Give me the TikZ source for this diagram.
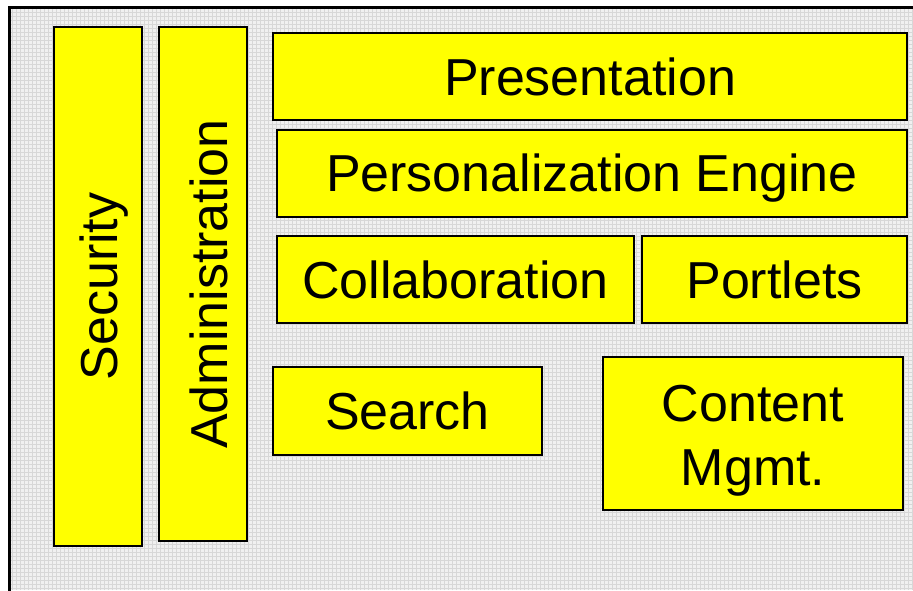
\documentclass[tikz,border=0pt]{standalone}
\usepackage{fontspec}
\setmainfont{Liberation Sans}
\definecolor{boxyellow}{RGB}{255,255,0}
\definecolor{gridgray}{RGB}{215,215,215}
\begin{document}
\begin{tikzpicture}[x=1pt,y=-1pt,
  block/.style={draw=black, line width=2.6pt, fill=boxyellow, inner sep=0pt, font=\fontsize{52}{64}\selectfont, align=center},
  label text/.style={inner sep=0pt, font=\fontsize{52}{64}\selectfont, align=center}]
\useasboundingbox (0,0) rectangle (913,590);
\fill[white] (0,0) rectangle (913,590);
\fill[white!94!black] (9,7) rectangle (913,590);
\draw[gridgray, line width=0.6pt, step=4pt] (10,8) grid (913,590);
\draw[black, line width=3pt] (9,592) -- (9,7) -- (915,7);
% blocks
\node[block, minimum width=88pt, minimum height=519pt] (security) at (98,286.5) {};
\node[label text, rotate=90] (securitytext) at (104,286.5) {Security};
\node[block, minimum width=88pt, minimum height=514pt] (admin) at (203,284) {};
\node[label text, rotate=90] (admintext) at (209,284) {Administration};
\node[block, minimum width=634pt, minimum height=87pt] (pres) at (590,76.5) {Presentation};
\node[block, minimum width=630pt, minimum height=87pt] (pers) at (592,173.5) {};
\node[label text] (perstext) at (592,178) {Personalization Engine};
\node[block, minimum width=357pt, minimum height=87pt] (collab) at (455.5,279.5) {Collaboration};
\node[block, minimum width=265pt, minimum height=87pt] (portlets) at (774.5,279.5) {Portlets};
\node[block, minimum width=269pt, minimum height=88pt] (search) at (407.5,411) {Search};
\node[block, minimum width=300pt, minimum height=153pt] (content) at (753,433.5) {};
\node[label text] (contenttext) at (753,441) {Content\\Mgmt.};
\end{tikzpicture}
\end{document}
